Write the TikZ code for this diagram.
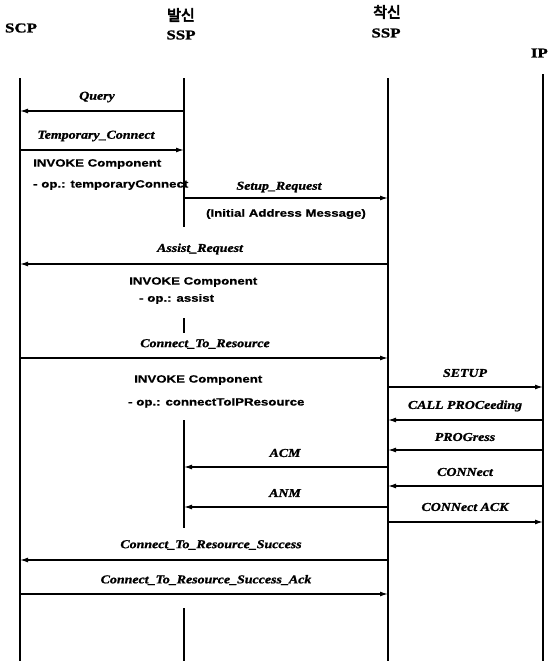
\documentclass[tikz,border=0pt]{standalone}
\usepackage{fontspec}
\usetikzlibrary{arrows.meta}
\newfontfamily\msgfont[FakeStretch=1.16,FakeBold=1.2]{Liberation Serif}
\newfontfamily\lblsans[FakeStretch=1.25,FakeBold=0.6]{Liberation Sans}
\newfontfamily\hdfont[FakeStretch=1.25,FakeBold=1.5]{Liberation Serif}
\newfontfamily\krfont[FakeBold=4]{Noto Sans CJK KR}
\tikzset{
  life/.style={line width=1.4pt},
  msg/.style={line width=1.3pt,-{Latex[length=8pt,width=5pt]}},
  msglbl/.style={inner sep=0pt,font=\msgfont\bfseries\itshape\fontsize{12}{14}\selectfont},
  sanslbl/.style={inner sep=0pt,font=\lblsans\bfseries\fontsize{10.6}{12}\selectfont},
  head/.style={inner sep=0pt,font=\hdfont\bfseries\fontsize{13.5}{15}\selectfont},
  krhead/.style={inner sep=0pt,font=\krfont\fontsize{15}{17}\selectfont},
}
\begin{document}
\begin{tikzpicture}[x=1pt,y=-1pt]
\useasboundingbox (0,0) rectangle (548,661);
\fill[white] (0,0) rectangle (548,661);
% lifeline x positions
\coordinate (scp) at (20,0);
\coordinate (ssa) at (184,0);
\coordinate (ssb) at (388,0);
\coordinate (ip) at (543,0);
% headers
\node[head] (hscp) at (21,28) {SCP};
\node[krhead] (hkra) at (181,15) {발신};
\node[head] (hssa) at (181,35) {SSP};
\node[krhead] (hkrb) at (387,12) {착신};
\node[head] (hssb) at (386,33) {SSP};
\node[head,anchor=east] (hip) at (548,53) {IP};
% lifeline ends
\coordinate (scpT) at (20,78);  \coordinate (scpB) at (20,661);
\coordinate (ssbT) at (388,78); \coordinate (ssbB) at (388,661);
\coordinate (ipT) at (543,74);  \coordinate (ipB) at (543,661);
\coordinate (saT1) at (184,78);  \coordinate (saB1) at (184,227);
\coordinate (saT2) at (184,318); \coordinate (saB2) at (184,333);
\coordinate (saT3) at (184,420); \coordinate (saB3) at (184,528);
\coordinate (saT4) at (184,608); \coordinate (saB4) at (184,661);
\draw[life] (scpT) -- (scpB);
\draw[life] (ssbT) -- (ssbB);
\draw[life] (ipT) -- (ipB);
\draw[life] (saT1) -- (saB1);
\draw[life] (saT2) -- (saB2);
\draw[life] (saT3) -- (saB3);
\draw[life] (saT4) -- (saB4);
% message y levels
\coordinate (yq) at (0,111);
\coordinate (ytc) at (0,150);
\coordinate (ysr) at (0,198);
\coordinate (yar) at (0,264);
\coordinate (yctr) at (0,358);
\coordinate (yset) at (0,387);
\coordinate (ycp) at (0,420);
\coordinate (ypr) at (0,450);
\coordinate (yacm) at (0,467);
\coordinate (ycon) at (0,486);
\coordinate (yanm) at (0,507);
\coordinate (yack) at (0,522);
\coordinate (ys) at (0,560);
\coordinate (ysa) at (0,594);
% arrows
\draw[msg] (ssa |- yq) -- (scp |- yq);
\draw[msg] (scp |- ytc) -- (ssa |- ytc);
\draw[msg] (ssa |- ysr) -- (ssb |- ysr);
\draw[msg] (ssb |- yar) -- (scp |- yar);
\draw[msg] (scp |- yctr) -- (ssb |- yctr);
\draw[msg] (ssb |- yset) -- (ip |- yset);
\draw[msg] (ip |- ycp) -- (ssb |- ycp);
\draw[msg] (ip |- ypr) -- (ssb |- ypr);
\draw[msg] (ssb |- yacm) -- (ssa |- yacm);
\draw[msg] (ip |- ycon) -- (ssb |- ycon);
\draw[msg] (ssb |- yanm) -- (ssa |- yanm);
\draw[msg] (ssb |- yack) -- (ip |- yack);
\draw[msg] (ssb |- ys) -- (scp |- ys);
\draw[msg] (scp |- ysa) -- (ssb |- ysa);
% labels
\node[msglbl] (lq) at (97,97) {Query};
\node[msglbl] (ltc) at (96,136) {Temporary\_Connect};
\node[sanslbl,anchor=west] (li1) at (33,164) {INVOKE Component};
\node[sanslbl,anchor=west] (lo1) at (33,185) {- op.: temporaryConnect};
\node[msglbl] (lsr) at (279,187) {Setup\_Request};
\node[sanslbl] (liam) at (286,214) {(Initial Address Message)};
\node[msglbl] (lar) at (200,249) {Assist\_Request};
\node[sanslbl,anchor=west] (li2) at (129,282) {INVOKE Component};
\node[sanslbl,anchor=west] (lo2) at (139,299) {- op.: assist};
\node[msglbl] (lctr) at (205,344) {Connect\_To\_Resource};
\node[sanslbl,anchor=west] (li3) at (134,380) {INVOKE Component};
\node[sanslbl,anchor=west] (lo3) at (128,403) {- op.: connectToIPResource};
\node[msglbl] (lset) at (465,373) {SETUP};
\node[msglbl] (lcp) at (465,406) {CALL PROCeeding};
\node[msglbl] (lpr) at (465,437) {PROGress};
\node[msglbl] (lacm) at (285,453) {ACM};
\node[msglbl] (lcon) at (465,472) {CONNect};
\node[msglbl] (lanm) at (285,493) {ANM};
\node[msglbl] (lack) at (465,507) {CONNect ACK};
\node[msglbl] (ls) at (211,545) {Connect\_To\_Resource\_Success};
\node[msglbl] (lsa) at (206,580) {Connect\_To\_Resource\_Success\_Ack};
\end{tikzpicture}
\end{document}
